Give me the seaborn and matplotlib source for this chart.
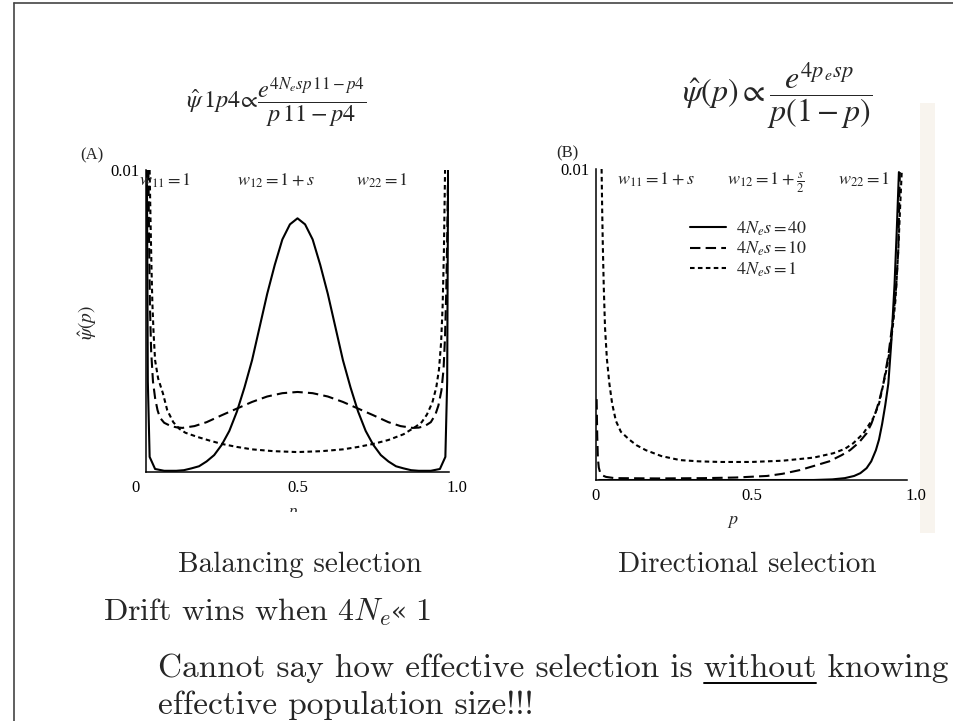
import numpy as np
import matplotlib
matplotlib.use('Agg')
import matplotlib.pyplot as plt
import matplotlib.transforms as mtransforms
import seaborn as sns
from matplotlib.patches import Rectangle
from matplotlib.lines import Line2D

# psi values, as a fraction of the 0.01 top of the axis
ymax = 0.01

# (A) balancing selection
bal_p_40 = [0.003, 0.006, 0.012, 0.03, 0.06, 0.10, 0.125, 0.15, 0.175, 0.20, 0.225, 0.25, 0.275,
            0.30, 0.325, 0.35, 0.375, 0.40, 0.425, 0.45, 0.475, 0.50, 0.525, 0.55, 0.575, 0.60,
            0.625, 0.65, 0.675, 0.70, 0.725, 0.75, 0.775, 0.80, 0.825, 0.85, 0.875, 0.90, 0.94,
            0.97, 0.988, 0.994, 0.997]
bal_v_40 = [1.0, 0.3, 0.05, 0.01, 0.004, 0.004, 0.006, 0.012, 0.019, 0.035, 0.056, 0.09, 0.136,
            0.20, 0.28, 0.37, 0.48, 0.59, 0.686, 0.77, 0.82, 0.84, 0.82, 0.77, 0.686, 0.59,
            0.48, 0.37, 0.28, 0.20, 0.136, 0.09, 0.056, 0.035, 0.019, 0.012, 0.006, 0.004, 0.004,
            0.01, 0.05, 0.3, 1.0]
bal_p_10 = [0.008, 0.010, 0.013, 0.017, 0.023, 0.03, 0.038, 0.046, 0.06, 0.08, 0.10, 0.12, 0.16,
            0.20, 0.25, 0.30, 0.35, 0.40, 0.45, 0.50, 0.55, 0.60, 0.65, 0.70, 0.75, 0.80, 0.84,
            0.88, 0.90, 0.92, 0.94, 0.955, 0.965, 0.975, 0.982, 0.987, 0.991, 0.994, 0.997]
bal_v_10 = [1.0, 0.78, 0.55, 0.40, 0.30, 0.245, 0.205, 0.18, 0.163, 0.153, 0.148, 0.146, 0.152,
            0.165, 0.188, 0.21, 0.232, 0.25, 0.261, 0.265, 0.261, 0.25, 0.232, 0.21, 0.188, 0.165,
            0.152, 0.146, 0.147, 0.152, 0.165, 0.19, 0.22, 0.27, 0.34, 0.45, 0.6, 0.77, 1.0]
bal_p_1 = [0.012, 0.015, 0.018, 0.021, 0.025, 0.03, 0.04, 0.056, 0.07, 0.09, 0.11, 0.13, 0.17,
           0.21, 0.25, 0.30, 0.35, 0.42, 0.50, 0.58, 0.65, 0.70, 0.75, 0.80, 0.85, 0.89, 0.91,
           0.927, 0.945, 0.958, 0.967, 0.974, 0.979, 0.983, 0.987]
bal_v_1 = [1.0, 0.83, 0.68, 0.56, 0.46, 0.37, 0.31, 0.26, 0.205, 0.165, 0.143, 0.13, 0.116,
           0.104, 0.093, 0.083, 0.075, 0.069, 0.066, 0.069, 0.075, 0.083, 0.093, 0.106, 0.125,
           0.15, 0.165, 0.19, 0.23, 0.28, 0.34, 0.43, 0.55, 0.72, 1.0]

# (B) directional selection
dir_p_40 = [0.01, 0.50, 0.70, 0.76, 0.80, 0.83, 0.85, 0.87, 0.885, 0.90, 0.91, 0.92, 0.93, 0.94,
            0.95, 0.96, 0.967, 0.974]
dir_v_40 = [0.0, 0.0, 0.0, 0.002, 0.006, 0.013, 0.022, 0.038, 0.06, 0.096, 0.13, 0.18, 0.24,
            0.31, 0.45, 0.63, 0.80, 0.99]
dir_p_10 = [0.002, 0.004, 0.006, 0.009, 0.013, 0.02, 0.032, 0.06, 0.20, 0.35, 0.45, 0.55, 0.60,
            0.656, 0.70, 0.75, 0.79, 0.817, 0.845, 0.87, 0.885, 0.90, 0.912, 0.924, 0.94, 0.956,
            0.965, 0.972, 0.977]
dir_v_10 = [0.26, 0.14, 0.07, 0.04, 0.025, 0.015, 0.01, 0.006, 0.005, 0.006, 0.008, 0.013, 0.02,
            0.032, 0.045, 0.06, 0.08, 0.096, 0.12, 0.15, 0.18, 0.22, 0.26, 0.31, 0.40, 0.525,
            0.62, 0.74, 0.99]
dir_p_1 = [0.018, 0.02, 0.022, 0.025, 0.029, 0.035, 0.043, 0.052, 0.064, 0.08, 0.107, 0.13, 0.16,
           0.21, 0.27, 0.33, 0.40, 0.50, 0.60, 0.70, 0.763, 0.80, 0.827, 0.86, 0.892, 0.91, 0.92,
           0.935, 0.945, 0.955, 0.963, 0.972, 0.978, 0.983]
dir_v_1 = [1.0, 0.86, 0.75, 0.62, 0.49, 0.39, 0.31, 0.245, 0.19, 0.155, 0.13, 0.112, 0.096,
           0.077, 0.064, 0.06, 0.058, 0.058, 0.062, 0.072, 0.086, 0.1, 0.118, 0.15, 0.20, 0.245,
           0.29, 0.36, 0.42, 0.50, 0.58, 0.74, 0.88, 0.99]

legend_labels = [r'$4N_e s = 40$', r'$4N_e s = 10$', r'$4N_e s = 1$']
x_ticks = [0, 0.5, 1.0]
x_ticklabels = ['0', '0.5', '1.0']

sns.set_style('white')
plt.rcParams['font.family'] = ['Liberation Serif', 'DejaVu Serif']
plt.rcParams['mathtext.fontset'] = 'stix'

W, H = 954, 721
fig = plt.figure(figsize=(W / 100, H / 100), dpi=100)


def px(x, y):
    return x / W, 1 - y / H


styles = ['-', (0, (5, 2.5)), (0, (2.2, 1.6))]

axA = fig.add_axes([146 / W, 1 - 472 / H, 303 / W, 302 / H])
axB = fig.add_axes([596 / W, 1 - 480 / H, 311 / W, 311 / H])

for ax, curves, shifts in [
        (axA, [(bal_p_40, bal_v_40), (bal_p_10, bal_v_10), (bal_p_1, bal_v_1)], [-10, 0, 8]),
        (axB, [(dir_p_40, dir_v_40), (dir_p_10, dir_v_10), (dir_p_1, dir_v_1)], [0, 0, 9])]:
    for (p, v), ls, lab in zip(curves, styles, legend_labels):
        sns.lineplot(x=np.array(p), y=np.array(v) * ymax, ax=ax, color='black',
                     linestyle=ls, linewidth=1.5, label=lab, estimator=None, sort=False)
    ax.set_xlim(0, 1.0)
    ax.set_ylim(0, ymax)
    ax.set_xticks(x_ticks)
    ax.set_xticklabels(x_ticklabels)
    ax.set_yticks([ymax])
    ax.set_yticklabels(['0.01'])
    ax.tick_params(direction='in', length=7, width=1, labelsize=12, pad=6, colors='black')
    ax.tick_params(axis='y', pad=5)
    for lbl, sh in zip(ax.get_xticklabels(), shifts):
        lbl.set_transform(lbl.get_transform() +
                          mtransforms.ScaledTranslation(sh / 100, 0, fig.dpi_scale_trans))
    for s in ['top', 'right']:
        ax.spines[s].set_visible(False)
    for s in ['left', 'bottom']:
        ax.spines[s].set_color('black')
        ax.spines[s].set_linewidth(1.1)
    ax.set_xlabel('')
    ax.set_ylabel('')
    ax.patch.set_alpha(0)

axA.get_legend().remove()
axB.legend(loc='upper left', bbox_to_anchor=(0.25, 0.89), frameon=False, fontsize=13,
           handlelength=2.0, handletextpad=0.55, labelspacing=0.12)

# light scan band at right of panel B
fig.patches.append(Rectangle(px(920, 533), 15 / W, 430 / H, transform=fig.transFigure,
                             facecolor='#f8f4ee', edgecolor='none', zorder=-1))

# slide border
fig.add_artist(Line2D([14 / W, 1], [1 - 3 / H, 1 - 3 / H], color='#444444', lw=1.2))
fig.add_artist(Line2D([14 / W, 14 / W], [0, 1 - 3 / H], color='#444444', lw=1.2))

# formulas
fig.text(*px(276, 103), r'$\hat{\psi}\,1p4\!\propto\!\dfrac{e^{4N_e sp\,11-p4}}{p\,11-p4}$',
         fontsize=17.5, ha='center', va='center')
fig.text(*px(777, 96), r'$\hat{\psi}(p)\propto\dfrac{e^{4p_{\,e} sp}}{p(1-p)}$',
         fontsize=23, ha='center', va='center')

# panel annotations
fig.text(*px(80, 155), '(A)', fontsize=12, va='center')
fig.text(*px(556, 153), '(B)', fontsize=12, va='center')
fig.text(*px(165, 181), r'$w_{11}=1$', fontsize=13, ha='center', va='center')
fig.text(*px(276, 181), r'$w_{12}=1+s$', fontsize=13, ha='center', va='center')
fig.text(*px(382, 181), r'$w_{22}=1$', fontsize=13, ha='center', va='center')
fig.text(*px(656, 180), r'$w_{11}=1+s$', fontsize=13, ha='center', va='center')
fig.text(*px(766, 183), r'$w_{12}=1+\frac{s}{2}$', fontsize=13, ha='center', va='center')
fig.text(*px(864, 180), r'$w_{22}=1$', fontsize=13, ha='center', va='center')
fig.text(*px(88, 322), r'$\hat{\psi}(p)$', fontsize=14, rotation=90, ha='center', va='center')

# axis labels (A's is cut off in the original)
fig.text(*px(293, 506), r'$p$', fontsize=12, ha='center', va='top')
fig.patches.append(Rectangle(px(280, 529), 30 / W, 17 / H, transform=fig.transFigure,
                             facecolor='white', edgecolor='none', zorder=5))
fig.text(*px(733, 522), r'$p$', fontsize=13, ha='center', va='center')

# slide text
cm = ['cmr10', 'DejaVu Serif']
fig.text(*px(300, 565), 'Balancing selection', fontsize=21, family=cm, ha='center', va='center')
fig.text(*px(747, 565), 'Directional selection', fontsize=21, family=cm, ha='center', va='center')

r = fig.canvas.get_renderer()

dx, dy, dfs = 103, 612, 23
d1 = fig.text(*px(dx, dy), r'Drift wins when 4$N_e$', fontsize=dfs, family=cm,
              math_fontfamily='cm', va='center')
e1 = d1.get_window_extent(r)
d2 = fig.text(e1.x1 / W, 1 - dy / H, '«', fontsize=dfs - 4, family='DejaVu Serif', va='center')
e2 = d2.get_window_extent(r)
fig.text((e2.x1 + 8) / W, 1 - dy / H, '1', fontsize=dfs, family=cm, va='center')

x0, y0 = 158, 668
pre = 'Cannot say how effective selection is '
fs = 24
fig.text(*px(x0, y0), pre + 'without knowing', fontsize=fs, family=cm, va='center')
fig.text(*px(x0, y0 + 37), 'effective population size!!!', fontsize=fs, family=cm, va='center')

# underline "without"
t1 = fig.text(0, 0, pre + 'without', fontsize=fs, family=cm)
t2 = fig.text(0, 0, 'without', fontsize=fs, family=cm)
w1 = t1.get_window_extent(r).width
w2 = t2.get_window_extent(r).width
t1.remove()
t2.remove()
ux0 = x0 + (w1 - w2)
fig.add_artist(Line2D([ux0 / W, (ux0 + w2) / W], [1 - (y0 + 15) / H] * 2, color='black', lw=1.4))

fig.savefig('out.png', dpi=100)
